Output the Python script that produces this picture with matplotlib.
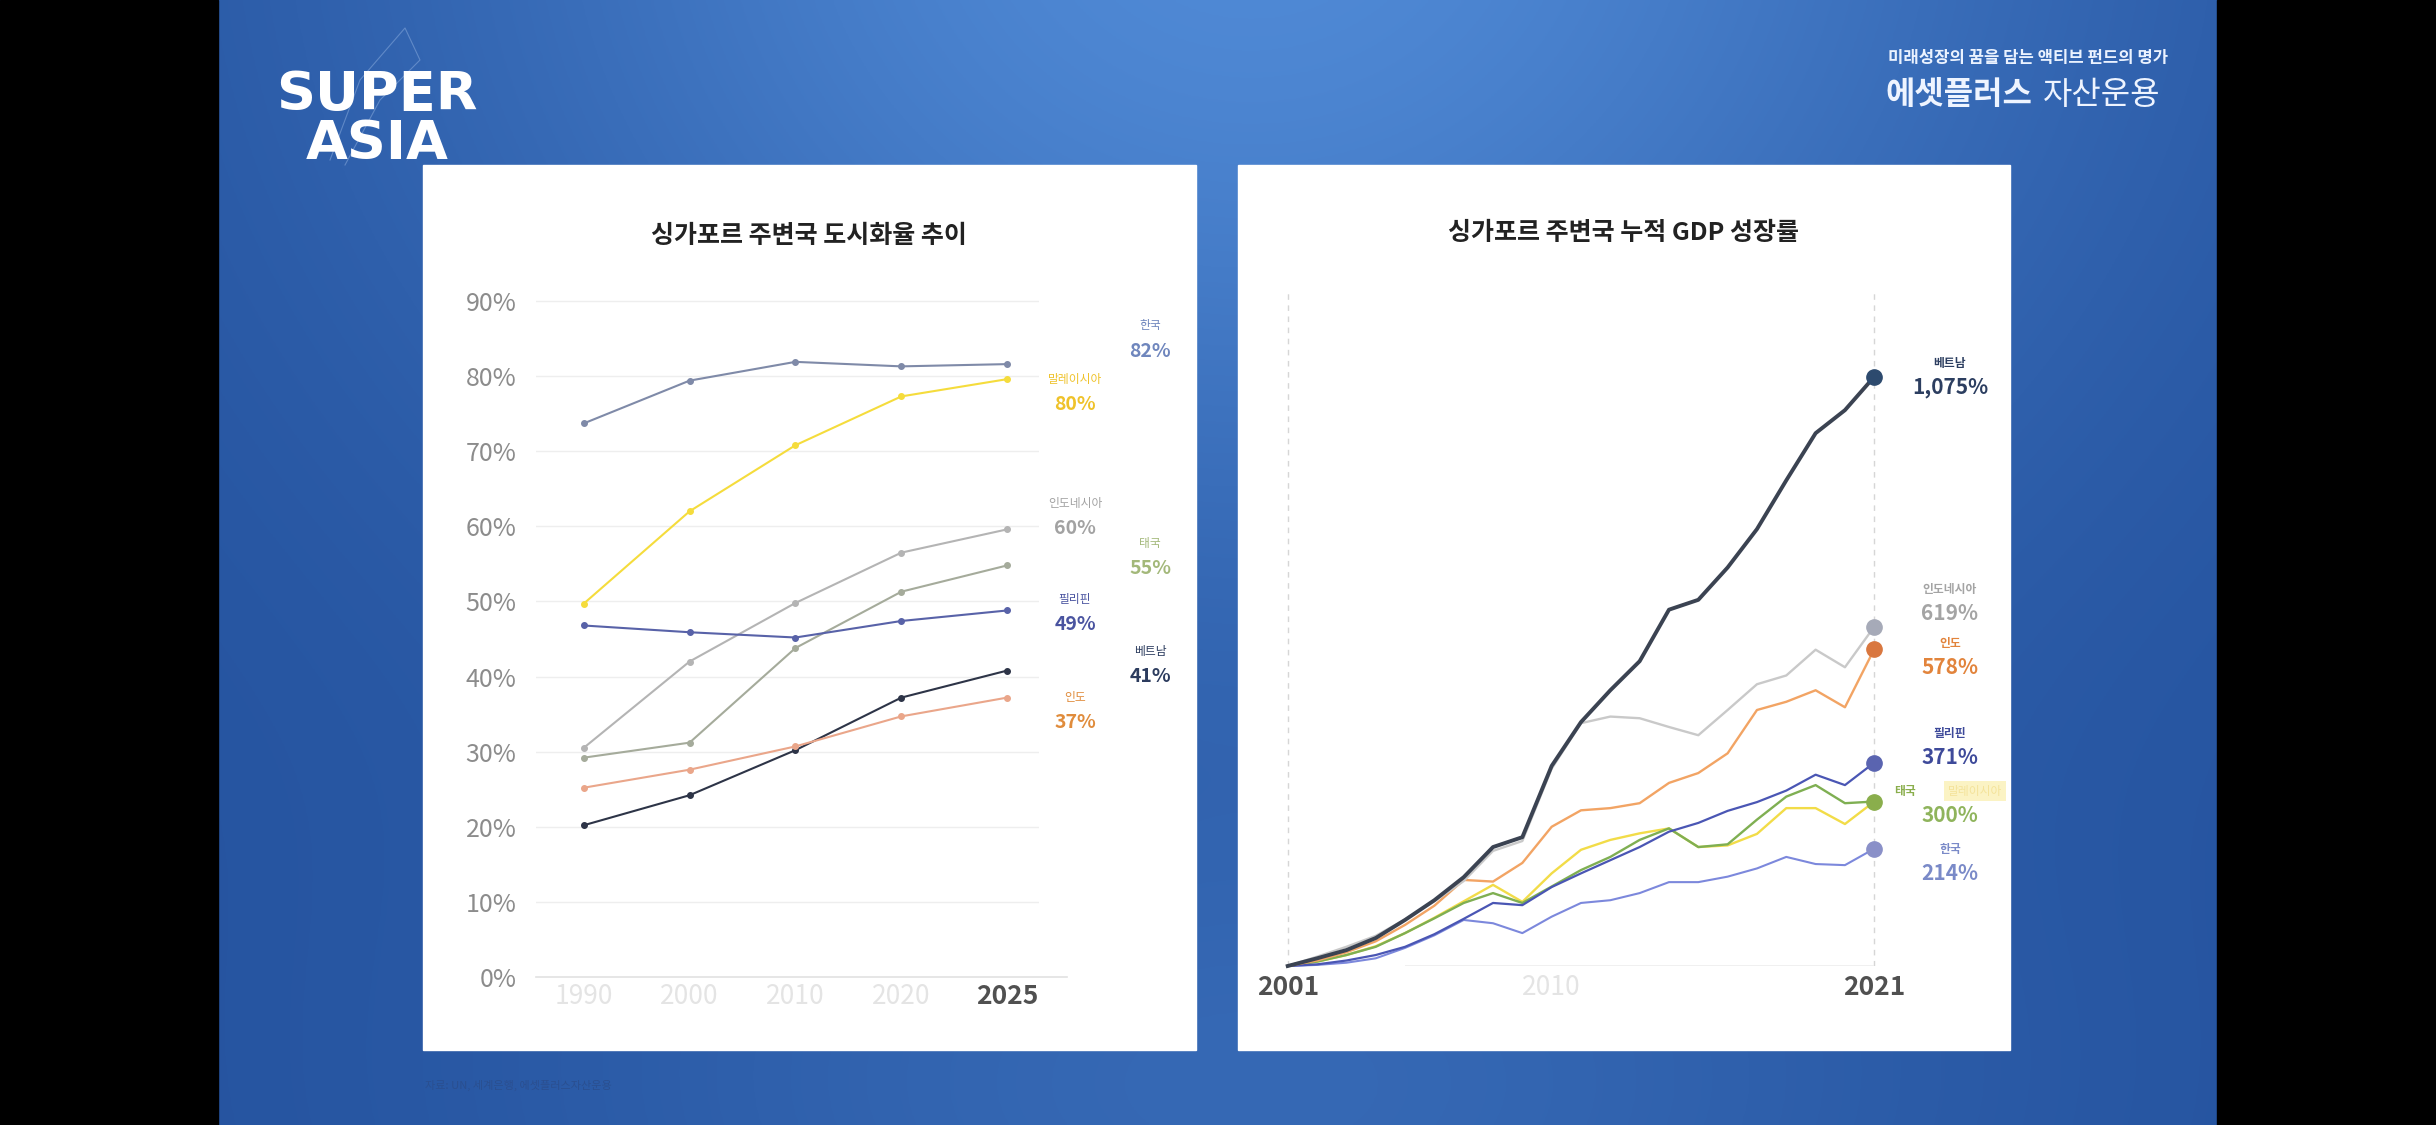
import numpy as np
import matplotlib.pyplot as plt
from matplotlib.patches import Rectangle

plt.rcParams['font.family'] = ['Noto Sans CJK KR', 'DejaVu Sans']

# ==========================================
# DATA - urbanisation (left)
# ==========================================
years_urban = ["1990", "2000", "2010", "2020", "2025"]
urban_names = ["한국", "말레이시아", "인도네시아", "태국", "필리핀", "베트남", "인도"]
urban_korea = [73.7, 79.4, 81.9, 81.3, 81.6]
urban_malaysia = [49.7, 62.0, 70.8, 77.3, 79.6]
urban_indonesia = [30.5, 42.0, 49.8, 56.5, 59.6]
urban_thailand = [29.2, 31.2, 43.8, 51.3, 54.8]
urban_philippines = [46.8, 45.9, 45.2, 47.4, 48.8]
urban_vietnam = [20.2, 24.2, 30.2, 37.2, 40.8]
urban_india = [25.2, 27.6, 30.7, 34.7, 37.2]

# ==========================================
# DATA - cumulative GDP growth (right), %
# ==========================================
gdp_years = list(range(2001, 2022))
gdp_vietnam = [0, 14, 29, 51, 84, 120, 162, 217, 235, 365, 445, 503, 556, 650, 668, 727, 797, 886, 972, 1014, 1075]
gdp_indonesia = [0, 17, 35, 55, 85, 118, 155, 210, 228, 360, 443, 455, 452, 436, 421, 467, 514, 530, 577, 545, 619]
gdp_india = [0, 10, 25, 45, 75, 110, 157, 154, 188, 254, 284, 288, 297, 334, 352, 388, 467, 482, 503, 472, 578]
gdp_philippines = [0, 3, 10, 20, 35, 58, 86, 115, 111, 144, 169, 193, 217, 245, 261, 283, 299, 320, 349, 330, 371]
gdp_thailand = [0, 8, 20, 35, 60, 87, 115, 133, 115, 145, 175, 199, 230, 251, 217, 222, 267, 309, 330, 297, 300]
gdp_malaysia = [0, 8, 20, 36, 60, 88, 118, 148, 117, 169, 212, 230, 242, 251, 217, 220, 241, 288, 288, 259, 300]
gdp_korea = [0, 2, 6, 14, 33, 56, 84, 78, 60, 90, 115, 120, 133, 153, 153, 163, 178, 199, 186, 184, 214]

W, H = 2436, 1125
fig = plt.figure(figsize=(W / 100, H / 100), dpi=100)

# ==========================================
# BACKGROUND
# ==========================================
bg = fig.add_axes([0, 0, 1, 1])
bg.set_xlim(0, W)
bg.set_ylim(H, 0)
bg.axis('off')
yy, xx = np.mgrid[0:H:3, 0:W:3].astype(float)
light = np.array([80, 138, 214]) / 255
dark = np.array([36, 82, 158]) / 255
f = np.exp(-((xx - 1250) / 820) ** 2 - ((yy + 120) / 720) ** 2)
f += 0.35 * np.exp(-((xx - 1250) / 700) ** 2 - ((yy - 1125) / 320) ** 2)
f = np.clip(f, 0, 1)[..., None]
img = dark + (light - dark) * f
bg.imshow(img, extent=[0, W, H, 0], aspect='auto', zorder=0)
bg.add_patch(Rectangle((0, 0), 218, H, color='black', zorder=1))
bg.add_patch(Rectangle((2217, 0), W - 2217, H, color='black', zorder=1))
bg.add_patch(Rectangle((423, 165), 773, 885, color='white', zorder=2))
bg.add_patch(Rectangle((1238, 165), 772, 885, color='white', zorder=2))

# logo outline
bg.plot([330, 360, 405, 420, 380, 345], [160, 80, 28, 60, 100, 165],
        color='#8fb0e0', lw=0.8, alpha=0.5, zorder=1.5)

def px(x, y):
    return x / W, 1 - y / H

fig.text(*px(377, 95), "SUPER", ha='center', va='center', fontsize=39,
         fontweight='heavy', color='white', family=['DejaVu Sans'])
fig.text(*px(377, 144), "ASIA", ha='center', va='center', fontsize=39,
         fontweight='heavy', color='white', family=['DejaVu Sans'])
fig.text(*px(2028, 58), "미래성장의 꿈을 담는 액티브 펀드의 명가", ha='center', va='center',
         fontsize=12, fontweight='bold', color='#eaf2ff')
fig.text(*px(1885, 95), "에셋플러스", ha='left', va='center', fontsize=23,
         fontweight='bold', color='#eef4ff')
fig.text(*px(2043, 95), "자산운용", ha='left', va='center', fontsize=23,
         color='#eef4ff')
fig.text(*px(425, 1085), "자료: UN, 세계은행, 에셋플러스자산운용", ha='left', va='center',
         fontsize=8, color='#2a4f90')

# ==========================================
# LEFT CHART
# ==========================================
urban_series = [urban_korea, urban_malaysia, urban_indonesia, urban_thailand,
                urban_philippines, urban_vietnam, urban_india]
urban_line_colors = ['#7f8aa8', '#f5dc3c', '#b4b4b4', '#a5ab9b', '#5862a8', '#2d3447', '#eaa68a']
urban_text_colors = ['#6f86bd', '#efc22a', '#a2a2a2', '#a3b87a', '#4a54a0', '#2c3c5e', '#e08c3c']
urban_label_pos = [(1150, 326), (1075, 380), (1075, 503), (1150, 543),
                   (1075, 599), (1150, 652), (1075, 697)]

ax1 = fig.add_axes([536 / W, 1 - 977 / H, (1039 - 536) / W, (977 - 286) / H])
ax1.patch.set_alpha(0)
xs = np.arange(len(years_urban))
for vals, c in zip(urban_series, urban_line_colors):
    ax1.plot(xs, vals, color=c, lw=1.5, marker='o', ms=4, clip_on=False, zorder=3)
ax1.set_xlim(-0.45, 4.3)
ax1.set_ylim(0, 92)
ax1.set_yticks(range(0, 91, 10))
ax1.set_yticklabels([f"{v}%" for v in range(0, 91, 10)], fontsize=18, color='#8c8c8c')
ax1.set_xticks(xs)
ax1.set_xticklabels(years_urban, fontsize=19)
for i, lab in enumerate(ax1.get_xticklabels()):
    if i == len(years_urban) - 1:
        lab.set_color('#505050')
        lab.set_fontweight('bold')
    else:
        lab.set_color('#e4e4e4')
ax1.tick_params(length=0)
ax1.tick_params(axis='y', pad=14)
ax1.tick_params(axis='x', pad=4)
for s in ax1.spines.values():
    s.set_visible(False)
ax1.yaxis.grid(True, color='#eeeeee', lw=1)
ax1.set_axisbelow(True)
ax1.axhline(0, xmin=0, xmax=1.055, color='#e2e2e2', lw=1.2, clip_on=False)

for name, vals, c, (lx, ly) in zip(urban_names, urban_series, urban_text_colors, urban_label_pos):
    fig.text(*px(lx, ly), name, ha='center', va='center', fontsize=8.5, color=c)
    fig.text(*px(lx, ly + 25), f"{round(vals[-1])}%", ha='center', va='center',
             fontsize=14, fontweight='bold', color=c)

fig.text(*px(809, 236), "싱가포르 주변국 도시화율 추이", ha='center', va='center',
         fontsize=18, fontweight='bold', color='#222222')

# ==========================================
# RIGHT CHART
# ==========================================
gdp_series = [gdp_korea, gdp_malaysia, gdp_thailand, gdp_philippines,
              gdp_india, gdp_indonesia, gdp_vietnam]
gdp_line_colors = ['#7c88dc', '#f2dc48', '#7faf52', '#4a56b4', '#f2a464', '#c9c9c9', '#3b4352']
gdp_widths = [1.5, 1.7, 1.7, 1.6, 1.7, 1.7, 2.8]
gdp_marker_colors = ['#8a90c8', None, '#8aae4c', '#5a64b0', '#d9773f', '#a6aab8', '#2d4a6e']

ax2 = fig.add_axes([1276 / W, 1 - 966 / H, (1886 - 1276) / W, (966 - 289) / H])
ax2.patch.set_alpha(0)
ax2.set_xlim(2000.6, 2021.4)
ax2.set_ylim(0, 1235)
ax2.axvline(2001, color='#d6d6d6', lw=1, ls=(0, (4, 4)), zorder=1)
ax2.axvline(2021, color='#d6d6d6', lw=1, ls=(0, (4, 4)), zorder=1)
ax2.hlines(0, 2005, 2021, color='#eeeeee', lw=1.2, zorder=1)
for vals, c, lw, mc in zip(gdp_series, gdp_line_colors, gdp_widths, gdp_marker_colors):
    ax2.plot(gdp_years, vals, color=c, lw=lw, clip_on=False, zorder=3,
             solid_joinstyle='round')
    if mc is not None:
        ax2.plot(gdp_years[-1], vals[-1], 'o', color=mc, ms=11, clip_on=False, zorder=4)
ax2.set_yticks([])
ax2.set_xticks([2001, 2010, 2021])
ax2.set_xticklabels(["2001", "2010", "2021"], fontsize=19)
for i, lab in enumerate(ax2.get_xticklabels()):
    if i == 1:
        lab.set_color('#e4e4e4')
    else:
        lab.set_color('#505050')
        lab.set_fontweight('bold')
ax2.tick_params(length=0, pad=6)
for s in ax2.spines.values():
    s.set_visible(False)

fig.text(*px(1624, 233), "싱가포르 주변국 누적 GDP 성장률", ha='center', va='center',
         fontsize=18, fontweight='bold', color='#222222')

gdp_label_names = ["베트남", "인도네시아", "인도", "필리핀", "한국"]
gdp_label_vals = [gdp_vietnam[-1], gdp_indonesia[-1], gdp_india[-1], gdp_philippines[-1], gdp_korea[-1]]
gdp_label_colors = ['#2c3e60', '#a4a4a4', '#e2843c', '#3e4a9a', '#7a8ac8']
gdp_label_y = [364, 590, 644, 734, 850]
for name, v, c, ly in zip(gdp_label_names, gdp_label_vals, gdp_label_colors, gdp_label_y):
    fig.text(*px(1950, ly), name, ha='center', va='center', fontsize=8.5,
             fontweight='bold', color=c)
    fig.text(*px(1950, ly + 24), f"{v:,}%", ha='center', va='center',
             fontsize=15, fontweight='bold', color=c)

# Thailand / Malaysia shared label
fig.text(*px(1905, 791), "태국", ha='center', va='center', fontsize=8.5,
         fontweight='bold', color='#8aae4c')
fig.text(*px(1975, 791), "말레이시아", ha='center', va='center', fontsize=8.5,
         color='#f4e39a', bbox=dict(boxstyle='square,pad=0.3', fc='#fbf3c4', ec='none'))
fig.text(*px(1950, 815), f"{gdp_thailand[-1]}%", ha='center', va='center',
         fontsize=15, fontweight='bold', color='#8fb45c')

fig.savefig("out.png", dpi=100)
